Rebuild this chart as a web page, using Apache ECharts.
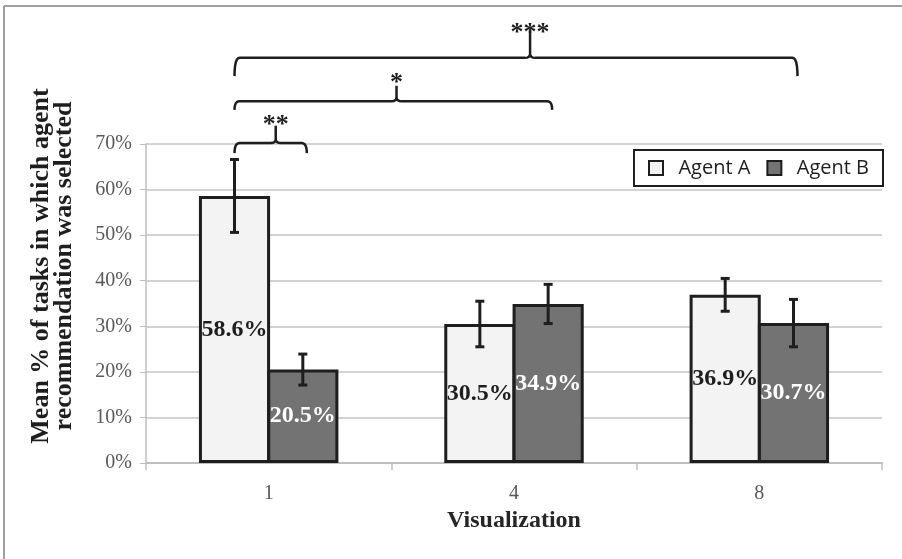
<!DOCTYPE html>
<html>
<head>
<meta charset="utf-8">
<script src="https://cdn.jsdelivr.net/npm/echarts@6/dist/echarts.min.js"></script>
<style>html,body{margin:0;padding:0;background:#fff}#c{width:902px;height:559px}</style>
</head>
<body>
<div id="c"></div>
<script>
// ---- data ----
const categories = ['1', '4', '8'];
const seriesNames = ['Agent A', 'Agent B'];
const agentA = [58.6, 30.5, 36.9];
const agentB = [20.5, 34.9, 30.7];
const errA = [8.0, 5.0, 3.6];
const errB = [3.4, 4.3, 5.2];
const yTickValues = [0, 10, 20, 30, 40, 50, 60, 70];
const sigLabels = ['**', '*', '***'];
// bracket endpoints as [categoryIndex, seriesIndex]
const sigFrom = [[0, 0], [0, 0], [0, 0]];
const sigTo = [[0, 1], [1, 1], [2, 1]];
// bracket levels in axis units (%)
const sigLevel = [70.2, 79.4, 88.9];
const sigEnd = [68.0, 77.5, 84.9];
const sigSpike = [74.0, 82.8, 95.2];
const sigText = [74.2, 83.4, 94.4];
const sigPos = [0.57, 0.51, 0.525];

const BAR_FRAC = 0.29;
const GAP = -0.04;
const half = BAR_FRAC * (1 + GAP) / 2;
const offsets = [-half, half];
const serif = "'Liberation Serif', 'Times New Roman', serif";

function errSeries(idx, vals, errs) {
  return {
    type: 'custom',
    name: seriesNames[idx] + ' err',
    z: 5,
    clip: false,
    silent: true,
    encode: { x: 0, y: 1 },
    data: vals.map((v, i) => [i, v, errs[i]]),
    renderItem: function (params, api) {
      const cat = api.value(0), v = api.value(1), e = api.value(2);
      const band = api.size([1, 0])[0];
      const c = api.coord([cat, v]);
      const x = c[0] + offsets[idx] * band;
      const t = api.coord([cat, v + e])[1];
      const b = api.coord([cat, v - e])[1];
      const w = 4.5;
      const st = { stroke: '#1e1e1e', lineWidth: 3 };
      return {
        type: 'group',
        children: [
          { type: 'line', shape: { x1: x, y1: t, x2: x, y2: b }, style: st },
          { type: 'line', shape: { x1: x - w, y1: t, x2: x + w, y2: t }, style: st },
          { type: 'line', shape: { x1: x - w, y1: b, x2: x + w, y2: b }, style: st }
        ]
      };
    }
  };
}

function quad(p0, c, p1, n) {
  const pts = [];
  for (let k = 1; k <= n; k++) {
    const t = k / n;
    pts.push([
      (1 - t) * (1 - t) * p0[0] + 2 * (1 - t) * t * c[0] + t * t * p1[0],
      (1 - t) * (1 - t) * p0[1] + 2 * (1 - t) * t * c[1] + t * t * p1[1]
    ]);
  }
  return pts;
}

const bracketSeries = {
  type: 'custom',
  name: 'sig',
  z: 6,
  clip: false,
  silent: true,
  encode: { x: 0, y: 1 },
  data: sigLabels.map((s, i) => [sigFrom[i][0], sigLevel[i], i]),
  renderItem: function (params, api) {
    const i = api.value(2);
    const band = api.size([1, 0])[0];
    const x1 = api.coord([sigFrom[i][0], 0])[0] + offsets[sigFrom[i][1]] * band;
    const x2 = api.coord([sigTo[i][0], 0])[0] + offsets[sigTo[i][1]] * band + 4;
    const y = api.coord([0, sigLevel[i]])[1];
    const ye = api.coord([0, sigEnd[i]])[1];
    const ys = api.coord([0, sigSpike[i]])[1];
    const yt = api.coord([0, sigText[i]])[1];
    const xs = x1 + (x2 - x1) * sigPos[i];
    const r = 5;
    let pts = [[x1, ye]];
    pts = pts.concat(quad([x1, ye], [x1, y], [x1 + r, y], 6));
    pts.push([xs - r, y]);
    pts = pts.concat(quad([xs - r, y], [xs, y], [xs, y - 4], 4));
    pts.push([xs, ys]);
    pts.push([xs, y - 4]);
    pts = pts.concat(quad([xs, y - 4], [xs, y], [xs + r, y], 4));
    pts.push([x2 - r, y]);
    pts = pts.concat(quad([x2 - r, y], [x2, y], [x2, ye], 6));
    return {
      type: 'group',
      children: [
        { type: 'text', z2: 1, style: { text: sigLabels[i], x: xs, y: yt, textAlign: 'center', textVerticalAlign: 'middle', font: 'bold 26px ' + serif, fill: '#1e1e1e' } },
        { type: 'polyline', z2: 2, shape: { points: pts }, style: { stroke: '#1e1e1e', lineWidth: 2.5, fill: null } }
      ]
    };
  }
};

const chart = echarts.init(document.getElementById('c'), null, { renderer: 'canvas' });
chart.setOption({
  animation: false,
  backgroundColor: '#fff',
  grid: { left: 146, right: 20, top: 144, bottom: 96, containLabel: false },
  legend: {
    data: seriesNames,
    left: 634, top: 150,
    padding: [8, 14, 8, 14],
    icon: 'rect',
    itemWidth: 14, itemHeight: 14, itemGap: 16,
    backgroundColor: '#fff',
    borderColor: '#1e1e1e', borderWidth: 2,
    formatter: function (n) { return '  ' + n; },
    textStyle: { fontFamily: "'Open Sans', sans-serif", fontSize: 20, color: '#1e1e1e' },
    itemStyle: { borderColor: '#1e1e1e', borderWidth: 2 }
  },
  xAxis: {
    type: 'category',
    data: categories,
    name: 'Visualization',
    nameLocation: 'middle',
    nameGap: 45,
    nameTextStyle: { fontFamily: serif, fontWeight: 'bold', fontSize: 24, color: '#262626' },
    axisLine: { lineStyle: { color: '#bfbfbf', width: 2 } },
    axisTick: { show: true, length: 7, lineStyle: { color: '#bfbfbf', width: 1.5 } },
    axisLabel: { margin: 21, fontFamily: serif, fontSize: 20, color: '#595959' }
  },
  yAxis: {
    type: 'value',
    min: 0, max: 70, interval: 10,
    axisLine: { show: true, lineStyle: { color: '#bfbfbf', width: 1.5 } },
    axisTick: { show: true, length: 6, lineStyle: { color: '#bfbfbf' } },
    splitLine: { lineStyle: { color: '#c4c4c4', width: 1.5 } },
    axisLabel: {
      margin: 14, fontFamily: serif, fontSize: 20, color: '#595959',
      formatter: function (v) { return yTickValues.indexOf(v) >= 0 ? v + '%' : ''; }
    }
  },
  graphic: [
    { type: 'line', shape: { x1: 4, y1: 6, x2: 902, y2: 6 }, style: { stroke: '#a0a0a0', lineWidth: 2 } },
    { type: 'line', shape: { x1: 4, y1: 6, x2: 4, y2: 559 }, style: { stroke: '#a0a0a0', lineWidth: 2 } },
    {
      type: 'text', x: 53, y: 266, rotation: Math.PI / 2,
      style: {
        text: 'Mean % of tasks in which agent\nrecommendation was selected',
        textAlign: 'center', textVerticalAlign: 'middle',
        font: 'bold 26px ' + serif, lineHeight: 23, fill: '#1e1e1e'
      }
    }
  ],
  series: [
    {
      type: 'bar', name: seriesNames[0], data: agentA,
      barWidth: (BAR_FRAC * 100) + '%', barGap: (GAP * 100) + '%',
      itemStyle: { color: '#f3f3f3', borderColor: '#1e1e1e', borderWidth: 3 },
      label: { show: true, position: 'inside', formatter: p => p.value.toFixed(1) + '%', fontFamily: serif, fontWeight: 'bold', fontSize: 24, color: '#1e1e1e' }
    },
    {
      type: 'bar', name: seriesNames[1], data: agentB,
      barWidth: (BAR_FRAC * 100) + '%', barGap: (GAP * 100) + '%',
      itemStyle: { color: '#737373', borderColor: '#1e1e1e', borderWidth: 3 },
      label: { show: true, position: 'inside', formatter: p => p.value.toFixed(1) + '%', fontFamily: serif, fontWeight: 'bold', fontSize: 24, color: '#ffffff' }
    },
    errSeries(0, agentA, errA),
    errSeries(1, agentB, errB),
    bracketSeries
  ]
});
</script>
</body>
</html>
